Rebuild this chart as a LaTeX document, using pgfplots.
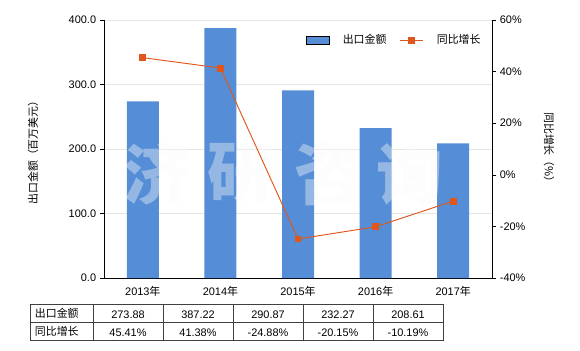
\documentclass[border=0pt]{standalone}
\usepackage{pgfplots}
\pgfplotsset{compat=1.18}
\usepackage{fontspec}
\setmainfont{Liberation Sans}
\newfontfamily\cjk{Noto Sans CJK SC}
\definecolor{barblue}{HTML}{558ED6}
\definecolor{lineorange}{HTML}{E0561B}
\definecolor{gridc}{HTML}{E6E6DE}
\definecolor{tabline}{HTML}{404040}
\begin{document}
\fontsize{8.2}{9.5}\selectfont
\begin{tikzpicture}
\path[use as bounding box] (0,0) rectangle (435pt,262.5pt);
\begin{axis}[
  at={(78pt,54pt)}, anchor=south west,
  scale only axis, width=291pt, height=193.5pt,
  xmin=-0.5, xmax=4.5, ymin=0, ymax=400,
  axis x line*=bottom, axis y line*=left,
  axis line style={-,black},
  xtick={0,1,2,3,4},
  xticklabels={{2013{\cjk 年}},{2014{\cjk 年}},{2015{\cjk 年}},{2016{\cjk 年}},{2017{\cjk 年}}},
  xtick style={draw=none},
  ytick={0,100,200,300,400},
  yticklabel style={/pgf/number format/fixed,/pgf/number format/fixed zerofill,/pgf/number format/precision=1},
  /pgf/number format/assume math mode=true,
  tick align=outside, major tick length=3pt,
  ytick style={black},
  ymajorgrids, grid style={gridc},
  tick label style={font=\fontsize{8.2}{9.5}\selectfont},
]
\addplot[ybar, bar width=24pt, fill=barblue, draw=none] coordinates {(0,273.88) (1,387.22) (2,290.87) (3,232.27) (4,208.61)};
\end{axis}
\begin{scope}[x=0.75pt,y=0.75pt]
% watermark
\begin{scope}[opacity=0.38]
\node[white!97!gray, font=\cjk\bfseries\fontsize{50}{50}\selectfont] at (157,176) {济};
\node[white!97!gray, font=\cjk\bfseries\fontsize{50}{50}\selectfont] at (241,176) {研};
\node[white!97!gray, font=\cjk\bfseries\fontsize{50}{50}\selectfont] at (328,176) {咨};
\node[white!97!gray, font=\cjk\bfseries\fontsize{50}{50}\selectfont] at (410,176) {询};
\end{scope}
\end{scope}
\begin{axis}[
  at={(78pt,54pt)}, anchor=south west,
  scale only axis, width=291pt, height=193.5pt,
  xmin=-0.5, xmax=4.5, ymin=-40, ymax=60,
  axis x line=none, axis y line*=right,
  axis line style={-,black},
  ytick={-40,-20,0,20,40,60},
  yticklabel={\pgfmathprintnumber{\tick}\%},
  /pgf/number format/assume math mode=true,
  tick align=outside, major tick length=3pt,
  ytick style={black},
  tick label style={font=\fontsize{8.2}{9.5}\selectfont},
  legend style={draw=none, at={(0.51,0.965)}, anchor=north west, font=\cjk\fontsize{8.2}{9.5}\selectfont, column sep=8pt, fill=none},
  legend columns=2,
]
\addlegendimage{area legend, fill=barblue, draw=none}
\addlegendentry{出口金额}
\addplot[lineorange, line width=0.7pt, mark=square*, mark size=2.2pt, mark options={fill=lineorange, draw=lineorange}] coordinates {(0,45.41) (1,41.38) (2,-24.88) (3,-20.15) (4,-10.19)};
\addlegendentry{同比增长}
\end{axis}
\begin{scope}[x=0.75pt,y=0.75pt]
% axis labels
\node[rotate=90, font=\cjk] at (33,200) {出口金额（百万美元）};
\node[rotate=-90, font=\cjk] at (549,200) {同比增长（\%）};
% data table
\draw[tabline, line width=0.6pt] (30,46) rectangle (443,10);
\draw[tabline, line width=0.6pt] (30,27.5) -- (443,27.5);
\foreach \xx in {93,163,233,303,373} {\draw[tabline, line width=0.6pt] (\xx,46) -- (\xx,10);}
\node[anchor=west, font=\cjk] at (31,37) {出口金额};
\node[anchor=west, font=\cjk] at (31,19) {同比增长};
\foreach \v [count=\i from 0] in {273.88,387.22,290.87,232.27,208.61} {\node at (128+70*\i,35) {\v};}
\foreach \v [count=\i from 0] in {45.41\%,41.38\%,-24.88\%,-20.15\%,-10.19\%} {\node at (128+70*\i,17) {\v};}
\end{scope}
\end{tikzpicture}
\end{document}
